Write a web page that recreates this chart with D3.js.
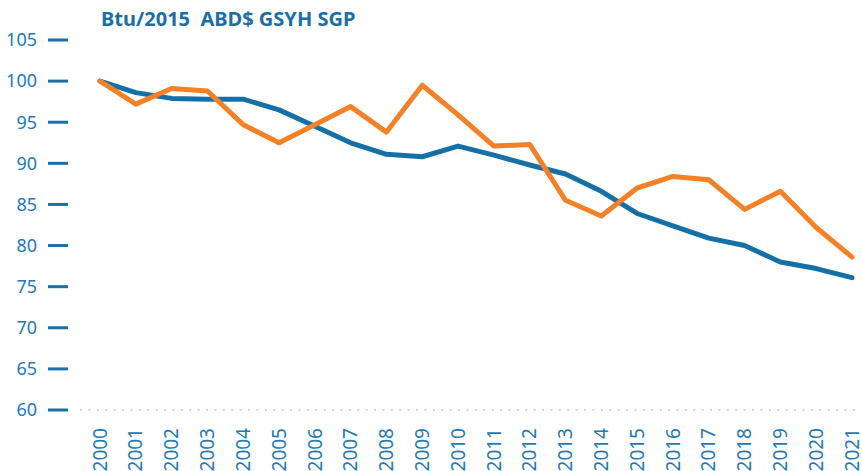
<!DOCTYPE html>
<html>
<head>
<meta charset="utf-8">
<style>
  body { margin: 0; background: #fff; }
  .title { font-family: "Noto Sans", sans-serif; font-weight: bold; fill: #1b6ea6; white-space: pre; }
  .y-axis text { font-family: "Noto Sans", sans-serif; fill: #2479b5; }
  .x-axis text { font-family: "Noto Sans", sans-serif; fill: #2479b5; }
</style>
<script src="https://d3js.org/d3.v7.min.js"></script>
</head>
<body>
<div id="chart"></div>
<script>
  const years = ["2000","2001","2002","2003","2004","2005","2006","2007","2008","2009","2010",
                 "2011","2012","2013","2014","2015","2016","2017","2018","2019","2020","2021"];
  const blueSeries = [100, 98.6, 97.9, 97.8, 97.8, 96.5, 94.5, 92.5, 91.1, 90.8, 92.1,
                      91.0, 89.8, 88.7, 86.6, 83.9, 82.4, 80.9, 80.0, 78.0, 77.2, 76.1];
  const orangeSeries = [100, 97.2, 99.1, 98.8, 94.7, 92.5, 94.7, 96.9, 93.8, 99.5, 95.9,
                        92.1, 92.3, 85.5, 83.6, 87.0, 88.4, 88.0, 84.4, 86.6, 82.2, 78.6];
  const yTicks = [60, 65, 70, 75, 80, 85, 90, 95, 100, 105];
  const titleText = "Btu/2015  ABD$ GSYH SGP";

  const width = 862, height = 471;

  const svg = d3.select("#chart").append("svg")
    .attr("width", width)
    .attr("height", height);

  const x = d3.scalePoint().domain(years).range([100, 852]);
  const y = d3.scaleLinear().domain([60, 105]).range([410, 40]);

  // title
  svg.append("text")
    .attr("class", "title")
    .attr("x", 101)
    .attr("y", 26)
    .style("font-size", "20px")
    .text(titleText);

  // y axis: short thick ticks with labels on the left
  const yAxis = svg.append("g").attr("class", "y-axis");
  yAxis.selectAll("line")
    .data(yTicks)
    .enter()
    .append("line")
    .attr("x1", 48).attr("x2", 68)
    .attr("y1", d => y(d)).attr("y2", d => y(d))
    .attr("stroke", "#1b6ea6")
    .attr("stroke-width", 3);
  yAxis.selectAll("text")
    .data(yTicks)
    .enter()
    .append("text")
    .attr("x", 37)
    .attr("y", d => y(d))
    .attr("dy", "0.35em")
    .attr("text-anchor", "end")
    .style("font-size", "18px")
    .text(d => d);

  // dotted baseline
  svg.append("line")
    .attr("x1", 81).attr("x2", width)
    .attr("y1", y(60)).attr("y2", y(60))
    .attr("stroke", "#a9dcf2")
    .attr("stroke-width", 2.2)
    .attr("stroke-linecap", "round")
    .attr("stroke-dasharray", "0.1,8.3");

  // x axis labels, rotated
  svg.append("g")
    .attr("class", "x-axis")
    .selectAll("text")
    .data(years)
    .enter()
    .append("text")
    .attr("transform", d => `translate(${x(d)},428) rotate(-90)`)
    .attr("text-anchor", "end")
    .attr("dy", "0.35em")
    .style("font-size", "19px")
    .text(d => d);

  const line = d3.line()
    .x((d, i) => x(years[i]))
    .y(d => y(d));

  svg.append("path")
    .datum(blueSeries)
    .attr("d", line)
    .attr("fill", "none")
    .attr("stroke", "#1670a8")
    .attr("stroke-width", 5)
    .attr("stroke-linejoin", "round")
    .attr("stroke-linecap", "round");

  svg.append("path")
    .datum(orangeSeries)
    .attr("d", line)
    .attr("fill", "none")
    .attr("stroke", "#f58025")
    .attr("stroke-width", 5)
    .attr("stroke-linejoin", "round")
    .attr("stroke-linecap", "round");
</script>
</body>
</html>
